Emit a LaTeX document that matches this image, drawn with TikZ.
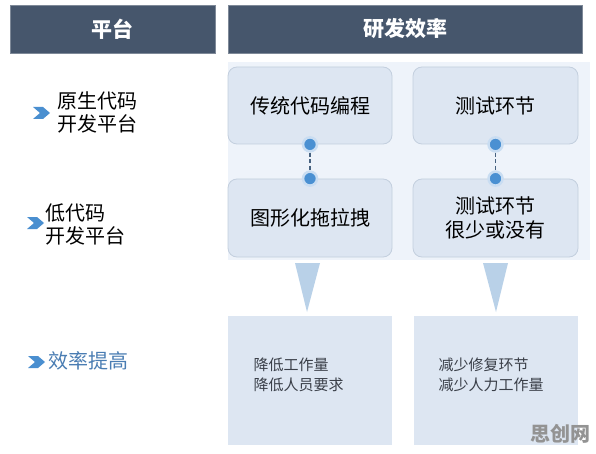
\documentclass[tikz,border=0pt]{standalone}
\usepackage{fontspec}
\setmainfont{Noto Sans CJK SC}
\usetikzlibrary{positioning}
\definecolor{hdr}{HTML}{46566C}
\definecolor{boxfill}{HTML}{DDE6F2}
\definecolor{boxline}{HTML}{C3CFDE}
\definecolor{panel}{HTML}{EEF3FA}
\definecolor{tri}{HTML}{B9D1E8}
\definecolor{dotc}{HTML}{4A90D2}
\definecolor{halo}{HTML}{C9DDF2}
\definecolor{chev}{HTML}{4A8FD0}
\definecolor{bluetxt}{HTML}{4A7DB3}
\definecolor{bottxt}{HTML}{3A3F48}
\tikzset{
  header/.style={fill=hdr, draw=hdr!70!white, line width=0.6pt, text=white, font=\bfseries\fontsize{21}{24}\selectfont},
  topbox/.style={fill=boxfill, draw=boxline, line width=0.8pt, rounded corners=9pt, align=center, font=\fontsize{20}{24}\selectfont, text=black},
  botbox/.style={fill=boxfill, draw=none},
  bottext/.style={align=left, anchor=west, text=bottxt, font=\fontsize{15}{20}\selectfont},
  lbl/.style={align=left, anchor=west, text=black, font=\fontsize{20}{23}\selectfont},
  dotn/.style={circle, fill=dotc, draw=halo, line width=2.5pt, inner sep=0pt, minimum size=14pt},
  conn/.style={draw=hdr!80!dotc, dashed, dash pattern=on 4pt off 2.5pt, line width=1.2pt},
  chevron/.style={fill=chev, draw=none},
  arrowtri/.style={fill=tri, draw=none}
}
\begin{document}
\begin{tikzpicture}[x=1pt,y=-1pt]
\useasboundingbox (0,0) rectangle (596,454);
\fill[white] (0,0) rectangle (596,454);
% headers
\node[header, minimum width=205pt, minimum height=48pt, inner sep=0pt] (h1) at (112.5,29) {平台};
\node[header, minimum width=354pt, minimum height=48pt, inner sep=0pt] (h2) at (405,29) {研发效率};
% panel
\fill[panel] (228,62) rectangle (590,260);
% top boxes
\node[topbox, minimum width=164pt, minimum height=77pt, inner sep=0pt] (b1) at (310,105.5) {传统代码编程};
\node[topbox, minimum width=165pt, minimum height=77pt, inner sep=0pt] (b2) at (495.5,105.5) {测试环节};
\node[topbox, minimum width=164pt, minimum height=78pt, inner sep=0pt] (b3) at (310,218) {图形化拖拉拽};
\node[topbox, minimum width=165pt, minimum height=78pt, inner sep=0pt] (b4) at (495.5,218) {测试环节\\很少或没有};
% dots and dashed connectors
\node[dotn] (d1) at (b1.south) {};
\node[dotn] (d2) at (b3.north) {};
\node[dotn] (d3) at (b2.south) {};
\node[dotn] (d4) at (b4.north) {};
\draw[conn] (d1) -- (d2);
\draw[conn] (d3) -- (d4);
% triangles
\coordinate (t1) at (307,312);
\coordinate (t2) at (496,312);
\fill[arrowtri] (295,263) -- (320,263) -- (t1) -- cycle;
\fill[arrowtri] (483,263) -- (508,263) -- (t2) -- cycle;
% bottom boxes
\node[botbox, minimum width=164pt, minimum height=129pt, inner sep=0pt] (c1) at (310,380.5) {};
\node[botbox, minimum width=164pt, minimum height=129pt, inner sep=0pt] (c2) at (496,380.5) {};
\node[bottext] (ct1) at (250,375) {降低工作量\\降低人员要求};
\node[bottext] (ct2) at (435,375) {减少修复环节\\减少人力工作量};
% left labels
\fill[chevron] (33,107) -- (43,107) -- (50,113) -- (43,119) -- (33,119) -- (40,113) -- cycle;
\node[lbl] (l1) at (54,112) {原生代码\\开发平台};
\fill[chevron] (27,217) -- (37,217) -- (44,223) -- (37,229) -- (27,229) -- (34,223) -- cycle;
\node[lbl] (l2) at (42,224) {低代码\\开发平台};
\fill[chevron] (28,356) -- (38,356) -- (45,362) -- (38,368) -- (28,368) -- (35,362) -- cycle;
\node[lbl, text=bluetxt] (l3) at (45,361) {效率提高};
% watermark
\node[text=gray!85, font=\bfseries\fontsize{20}{22}\selectfont, anchor=center] (wm) at (560,434) {思创网};
\end{tikzpicture}
\end{document}
